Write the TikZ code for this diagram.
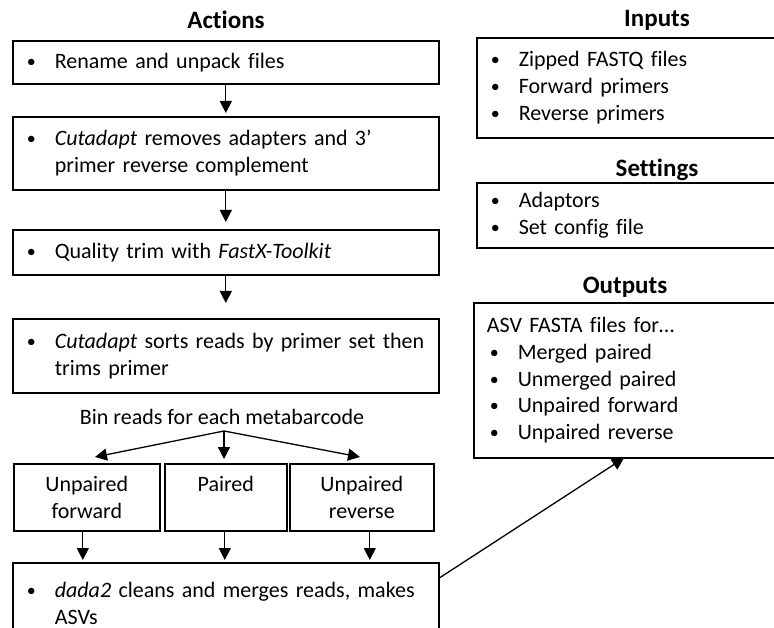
\documentclass[tikz,border=0pt]{standalone}
\usepackage{fontspec}
\setmainfont{Carlito}[Ligatures=NoCommon]
\usetikzlibrary{arrows.meta}
\newcommand{\bul}{\makebox[29pt][l]{\hspace*{1pt}\raisebox{1pt}{\fontsize{18}{18}\selectfont\textbullet}}}
\begin{document}
\begin{tikzpicture}[x=1pt, y=-1pt,
  box/.style={draw, line width=1.6pt, anchor=north west, inner xsep=13pt, inner ysep=0pt, align=left, font=\fontsize{22}{26.8}\selectfont},
  sbox/.style={draw, line width=1.6pt, anchor=north west, inner sep=0pt, align=center, minimum height=67pt, font=\fontsize{22}{26.8}\selectfont},
  ttl/.style={font=\fontsize{25}{28}\selectfont\bfseries},
  arr/.style={-{Triangle[width=12pt,length=12pt]}, line width=1.3pt}]
  \useasboundingbox (0,0) rectangle (774,628);
  \node[ttl] (actions) at (226,20) {Actions};
  \node[box, text width=400pt, minimum height=43pt] (rename) at (12,40) {\mbox{\bul Rename and unpack files}};
  \node[box, text width=400pt, minimum height=73pt] (cut1) at (12,116) {\mbox{\bul\textit{Cutadapt} removes adapters and 3’}\\\hspace*{29pt}primer reverse complement};
  \node[box, text width=400pt, minimum height=45pt] (qual) at (12,229) {\mbox{\bul Quality trim with \textit{FastX-Toolkit}}};
  \node[box, text width=400pt, minimum height=74pt] (cut2) at (12,318) {\mbox{\bul\textit{Cutadapt} sorts reads by primer set then}\\\hspace*{29pt}trims primer};
  \node[font=\fontsize{22}{26.8}\selectfont] (bin) at (222,417) {Bin reads for each metabarcode};
  \node[sbox, minimum width=146pt] (ufwd) at (13,463) {Unpaired\\forward};
  \node[sbox, minimum width=122pt] (paired) at (164,463) {Paired\\~};
  \node[sbox, minimum width=144pt] (urev) at (289,463) {Unpaired\\reverse};
  \node[box, text width=400pt, minimum height=82pt] (dada) at (12,562) {\mbox{\bul\textit{dada2} cleans and merges reads, makes}\\\hspace*{29pt}ASVs};
  \node[ttl] (inputs) at (657,20) {Inputs};
  \node[box, text width=280pt, minimum height=100pt] (inbox) at (476,37) {\bul Zipped FASTQ files\\\bul Forward primers\\\bul Reverse primers};
  \node[ttl] (settings) at (657,170) {Settings};
  \node[box, text width=280pt, minimum height=65pt] (setbox) at (476,182) {\bul Adaptors\\\bul Set config file};
  \node[ttl] (outputs) at (625,287) {Outputs};
  \node[box, text width=284pt, minimum height=155pt] (outbox) at (473,302) {ASV FASTA files for…\\\hspace*{2pt}\bul Merged paired\\\hspace*{2pt}\bul Unmerged paired\\\hspace*{2pt}\bul Unpaired forward\\\hspace*{2pt}\bul Unpaired reverse};
  \coordinate (split) at (224,431);
  \coordinate (lt) at (95,457);
  \coordinate (mt) at (224,459);
  \coordinate (rt) at (360,457);
  \coordinate (outtip) at (624,458);
  \draw[arr, shorten >=3pt] (rename) -- (cut1);
  \draw[arr, shorten >=7pt] (cut1) -- (qual);
  \draw[arr, shorten >=15pt] (qual) -- (cut2);
  \draw[arr] (split) -- (lt);
  \draw[arr] (split) -- (mt);
  \draw[arr] (split) -- (rt);
  \draw[arr, shorten >=2pt] ([xshift=-4pt]ufwd.south) -- ([xshift=-4pt]ufwd.south |- dada.north);
  \draw[arr, shorten >=2pt] ([xshift=-1pt]paired.south) -- ([xshift=-1pt]paired.south |- dada.north);
  \draw[arr, shorten >=2pt] ([xshift=8pt]urev.south) -- ([xshift=8pt]urev.south |- dada.north);
  \draw[arr] ([yshift=26pt]dada.east) -- (outtip);
\end{tikzpicture}
\end{document}
